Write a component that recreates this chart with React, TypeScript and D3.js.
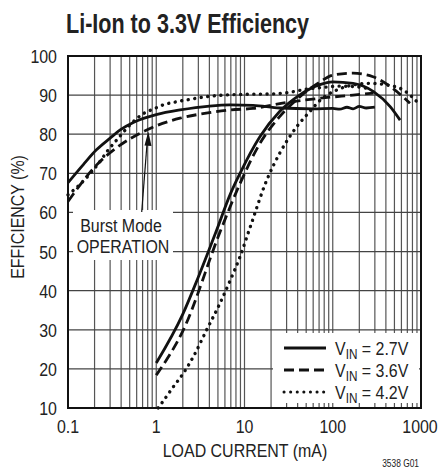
// @ts-nocheck
import { scaleLog, scaleLinear, line, curveMonotoneX } from "d3";
import React from "react";

const W = 438;
const H = 469;
const M = { left: 68, top: 56, right: 17, bottom: 61 };
const FONT = "'Liberation Sans', Arial, Helvetica, sans-serif";
const SX = 0.84; // narrow the font like the condensed face of the original

const xTicks = [0.1, 1, 10, 100, 1000];
const xTickLabels = ["0.1", "1", "10", "100", "1000"];
const yTicks = [10, 20, 30, 40, 50, 60, 70, 80, 90, 100];

// [load current mA, efficiency %]
const burst27 = [
  [0.1, 67.6], [0.15, 72.3], [0.21, 76], [0.3, 79], [0.39, 81.1], [0.55, 83], [0.78, 84.3],
  [1, 85], [1.86, 86.2], [4, 87.2], [6.85, 87.5], [12.5, 87.4], [25, 86.7], [60, 86.5],
  [100, 86.6], [120, 86.4], [145, 86.9], [170, 86.5], [200, 87.1], [240, 86.7], [300, 86.9],
];
const pwm27 = [
  [1, 21.5], [2, 34], [3, 43.5], [4.84, 55.5], [6.85, 64.5], [8.9, 70], [15, 79.4], [25, 85.8],
  [42, 90], [70, 92.6], [100, 93.4], [170, 93], [290, 90.9], [450, 87], [580, 83.6],
];
const burst36 = [
  [0.1, 62.8], [0.21, 72.1], [0.39, 77.2], [0.78, 81.1], [1.86, 84.1], [4, 85.5], [6.85, 86.2],
  [12.5, 86.6], [30, 88.1], [72, 89.2], [170, 90], [290, 90.5],
];
const pwm36 = [
  [1, 18.4], [2.03, 30], [5.28, 55], [8.9, 67.4], [15, 77.7], [25, 84.5], [42.5, 89.6],
  [72, 93.4], [100, 95.1], [170, 95.6], [286, 94.7], [480, 91.7], [750, 87.9],
];
const burst42 = [
  [0.1, 64.5], [0.137, 67.2], [0.186, 70.4], [0.23, 73], [0.286, 76], [0.372, 79], [0.463, 81.5],
  [0.6, 84], [0.745, 85.5], [0.925, 86.4], [1.2, 87.5], [1.7, 88.3], [2.4, 88.9], [3.7, 89.6],
  [5.8, 90], [10, 90.2], [20, 90.3], [30, 90.6], [50, 91.5], [80, 92], [120, 92.3], [170, 92.2],
  [250, 91.7],
];
const pwm42 = [
  [1.05, 10], [1.15, 11.2], [1.56, 15.4], [2.03, 18.9], [2.63, 23.1], [3.73, 30], [5.28, 36.8],
  [6.85, 42.5], [8.9, 48.7], [11.5, 56], [17.9, 68.3], [25, 75.1], [39, 81.9], [55, 85.8],
  [72, 88.7], [111, 91.3], [171, 92.6], [264, 93], [408, 92.6], [631, 91.3], [974, 87.5],
];

const series = [
  { name: "2.7V", curves: [burst27, pwm27], dash: null, cap: "butt" },
  { name: "3.6V", curves: [burst36, pwm36], dash: "10 5", cap: "butt" },
  { name: "4.2V", curves: [burst42, pwm42], dash: "0.1 6.5", cap: "round" },
];

const T = ({ x, y, size = 19, anchor = "start", rotate = 0, sx = SX, weight = "normal", children }) => (
  <text
    transform={`translate(${x},${y}) rotate(${rotate}) scale(${sx},1)`}
    fontSize={size}
    fontWeight={weight}
    textAnchor={anchor}
    fill="#222"
  >
    {children}
  </text>
);

export default function App() {
  const iw = W - M.left - M.right;
  const ih = H - M.top - M.bottom;
  const x = scaleLog().domain([0.1, 1000]).range([M.left, M.left + iw]);
  const y = scaleLinear().domain([10, 100]).range([M.top + ih, M.top]);
  const path = line()
    .x((d) => x(d[0]))
    .y((d) => y(d[1]))
    .curve(curveMonotoneX);

  // minor + major vertical lines
  const vLines = [];
  for (let dec = 0.1; dec < 1000; dec *= 10) {
    for (let k = 1; k < 10; k++) vLines.push(+(dec * k).toPrecision(3));
  }

  const legendY = [348, 370, 392];

  return (
    <svg width={W} height={H} style={{ position: "absolute", left: 0, top: 0, background: "#fff" }} fontFamily={FONT}>
      <T x={66} y={33} size={28} weight="bold" sx={0.77}>Li-Ion to 3.3V Efficiency</T>

      <g>
        {vLines.map((v) => (
          <line key={v} x1={x(v)} x2={x(v)} y1={M.top} y2={M.top + ih} stroke="#555" strokeWidth={1.2} />
        ))}
        {yTicks.map((t) => (
          <line key={t} x1={M.left} x2={M.left + iw} y1={y(t)} y2={y(t)} stroke="#444" strokeWidth={1.2} />
        ))}
      </g>

      {series.map((s) =>
        s.curves.map((c, i) => (
          <path
            key={s.name + i}
            d={path(c)}
            fill="none"
            stroke="#111"
            strokeWidth={s.cap === "round" ? 3.4 : 2.8}
            strokeDasharray={s.dash}
            strokeLinecap={s.cap}
          />
        ))
      )}

      {/* annotation */}
      <rect x={73} y={210} width={100} height={50} fill="#fff" />
      <T x={121} y={231.5} anchor="middle">Burst Mode</T>
      <T x={123} y={253} anchor="middle">OPERATION</T>
      <line x1={141.7} y1={212} x2={147} y2={144} stroke="#111" strokeWidth={1.2} />
      <path d="M148.3,131.5 L151.5,146 L144.5,145.5 Z" fill="#111" />

      {/* legend */}
      <rect x={273} y={333} width={146} height={70} fill="#fff" />
      {series.map((s, i) => (
        <g key={s.name}>
          <line
            x1={284}
            x2={326}
            y1={legendY[i]}
            y2={legendY[i]}
            stroke="#111"
            strokeWidth={s.cap === "round" ? 3 : 2.8}
            strokeDasharray={s.dash}
            strokeLinecap={s.cap}
          />
          <T x={335} y={legendY[i] + 7}>
            V<tspan fontSize={14} dy={4}>IN</tspan>
            <tspan dy={-4}> = {s.name}</tspan>
          </T>
        </g>
      ))}

      <rect x={M.left} y={M.top} width={iw} height={ih} fill="none" stroke="#111" strokeWidth={2} />

      {yTicks.map((t) => (
        <T key={t} x={57} y={y(t) + 7} anchor="end">{t}</T>
      ))}
      {xTicks.map((t, i) => (
        <T key={t} x={i === 4 ? Math.min(x(t), 437 - 17) : x(t)} y={433} anchor="middle">{xTickLabels[i]}</T>
      ))}
      <T x={245} y={457} anchor="middle">LOAD CURRENT (mA)</T>
      <T x={24} y={217} rotate={-90} anchor="middle">EFFICIENCY (%)</T>
      <T x={419} y={467} size={10} anchor="end">3538 G01</T>
    </svg>
  );
}
